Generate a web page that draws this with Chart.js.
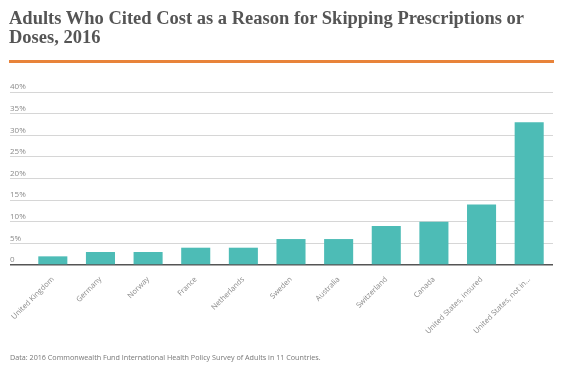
<!DOCTYPE html>
<html>
<head>
<meta charset="utf-8">
<script src="https://cdn.jsdelivr.net/npm/chart.js@4"></script>
<style>
  html, body { margin: 0; padding: 0; background: #fff; }
  #wrap { position: relative; width: 572px; height: 375px; overflow: hidden; }
  #chart { position: absolute; left: 0; top: 0; }
  .title {
    position: absolute; left: 9px; top: 9px; width: 540px;
    font: bold 18.5px "Liberation Serif", "Times New Roman", serif;
    line-height: 19px; color: #555;
  }
  .rule { position: absolute; left: 9px; top: 60px; width: 545px; height: 3px; background: #e8833a; }
  .source {
    position: absolute; left: 10px; top: 352px;
    font: 7.2px "Open Sans", sans-serif; color: #777;
  }
</style>
</head>
<body>
<div id="wrap">
  <canvas id="chart" width="572" height="375"></canvas>
  <div class="title">Adults Who Cited Cost as a Reason for Skipping Prescriptions or Doses, 2016</div>
  <div class="rule"></div>
  <div class="source">Data: 2016 Commonwealth Fund International Health Policy Survey of Adults in 11 Countries.</div>
</div>
<script>
// Data
const countries = [
  'United Kingdom', 'Germany', 'Norway', 'France', 'Netherlands', 'Sweden',
  'Australia', 'Switzerland', 'Canada', 'United States, insured', 'United States, not in...',
];
const costSkipped = [2, 3, 3, 4, 4, 6, 6, 9, 10, 14, 33];
const yTicks = [0, 5, 10, 15, 20, 25, 30, 35, 40];

const teal = '#4dbcb6';
const gridGrey = '#d6d6d6';
const axisGrey = '#555';
const labelGrey = '#8a8a8a';

const ctx = document.getElementById('chart');
// eslint-disable-next-line no-unused-vars
const chart = new Chart(ctx, {
  type: 'bar',
  data: {
    labels: countries,
    datasets: [
      {
        data: costSkipped,
        backgroundColor: teal,
        hoverBackgroundColor: teal,
        barPercentage: 0.61,
        categoryPercentage: 1,
      },
    ],
  },
  options: {
    responsive: false,
    animation: false,
    layout: {
      padding: { left: 10, right: 19, top: 92, bottom: 30 },
    },
    scales: {
      y: {
        min: 0,
        max: 40,
        afterFit: (scale) => { scale.width = 19; },
        afterBuildTicks: (scale) => { scale.ticks = yTicks.map((v) => ({ value: v })); },
        grid: {
          color: (c) => (c.tick && c.tick.value === 0 ? axisGrey : gridGrey),
          lineWidth: (c) => (c.tick && c.tick.value === 0 ? 1.5 : 1),
          tickLength: 19,
        },
        border: { display: false },
        ticks: {
          crossAlign: 'far',
          labelOffset: -5,
          color: labelGrey,
          font: { family: 'Open Sans', size: 8 },
          callback: (v) => (v === 0 ? '0' : `${v}%`),
        },
      },
      x: {
        afterFit: (scale) => { scale.height = 80; },
        grid: { display: false },
        border: { display: false },
        ticks: {
          autoSkip: false,
          maxRotation: 45,
          minRotation: 45,
          padding: 2,
          color: labelGrey,
          font: { family: 'Open Sans', size: 7.5 },
        },
      },
    },
    plugins: {
      legend: { display: false },
      tooltip: { enabled: false },
    },
  },
});
</script>
</body>
</html>
